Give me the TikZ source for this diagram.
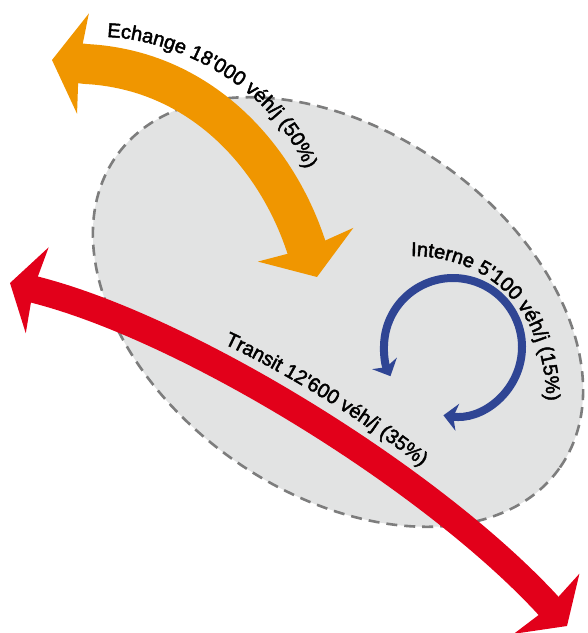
\documentclass[tikz,border=0pt]{standalone}
\usepackage{fontspec}
\setmainfont{Liberation Sans}
\newfontfamily\flowfamily{Liberation Sans}[FakeBold=2.2]
\usetikzlibrary{arrows.meta,decorations.text,calc}

\definecolor{zonefill}{RGB}{226,227,227}
\definecolor{zoneedge}{RGB}{125,125,125}
\definecolor{echangecol}{RGB}{240,150,0}
\definecolor{transitcol}{RGB}{226,0,26}
\definecolor{internecol}{RGB}{47,69,148}

\newcommand\flowfont{\flowfamily\fontsize{20}{24}\selectfont}

\begin{document}
\begin{tikzpicture}[x=1pt,y=1pt,
  zone/.style={fill=zonefill, draw=zoneedge, line width=2.6pt, dash pattern=on 11pt off 7pt},
  echangeflow/.style={draw=echangecol, line width=40pt,
    {Stealth[length=31pt,width=100pt,inset=4pt]}-{Stealth[length=34pt,width=100pt,inset=4pt]}},
  transitflow/.style={draw=transitcol, line width=27pt,
    {Stealth[length=28pt,width=88pt,inset=4pt]}-{Stealth[length=30pt,width=88pt,inset=4pt]}},
  interneflow/.style={draw=internecol, line width=8pt,
    {Stealth[length=14pt,width=27pt,inset=4pt]}-{Stealth[length=14pt,width=27pt,inset=4pt]}},
  flowtext/.style={decorate, decoration={text along path, text align=left}}
]
\useasboundingbox (0,0) rectangle (588,-633);

% study area
\coordinate (zc) at (338,-312);
\draw[zone, rotate around={-35:(zc)}] (zc) ellipse [x radius=271, y radius=181];

% exchange flow
\coordinate (eA) at (52,-60);
\coordinate (eA1) at (86,-64);
\coordinate (eB1) at (305,-243);
\coordinate (eB) at (317,-277);
\draw[echangeflow] (eA) -- (eA1) .. controls (200,-70) and (275,-155) .. (eB1) -- (eB);

% through traffic
\coordinate (tA) at (10,-283);
\coordinate (tA1) at (40,-291);
\coordinate (tB1) at (545,-602);
\coordinate (tB) at (567,-626);
\draw[transitflow] (tA) -- (tA1) .. controls (190,-331) and (428,-477) .. (tB1) -- (tB);

% internal traffic loop
\coordinate (iC) at (453,-347);
\coordinate (iS) at ($(iC)+(-98:69)$);
\draw[interneflow] (iS) arc[start angle=-98, end angle=205, radius=69];

% labels
\path[flowtext, decoration={text={|\flowfont|Echange 18'000 véh/j (50{\%})}}]
  (107,-37) .. controls (185,-40) and (280,-95) .. (308,-176) -- ++(6,-30);
\path[flowtext, decoration={text={|\flowfont|Transit 12'600 véh/j (35{\%})}}]
  (224,-344) .. controls (290,-375) and (370,-425) .. (428,-472) -- ++(24,-20);
\path[flowtext, decoration={text={|\flowfont|Interne 5'100 véh/j (15{\%})}}]
  (411,-256) .. controls (470,-256) and (540,-290) .. (546,-392) -- ++(0,-30);
\end{tikzpicture}
\end{document}
